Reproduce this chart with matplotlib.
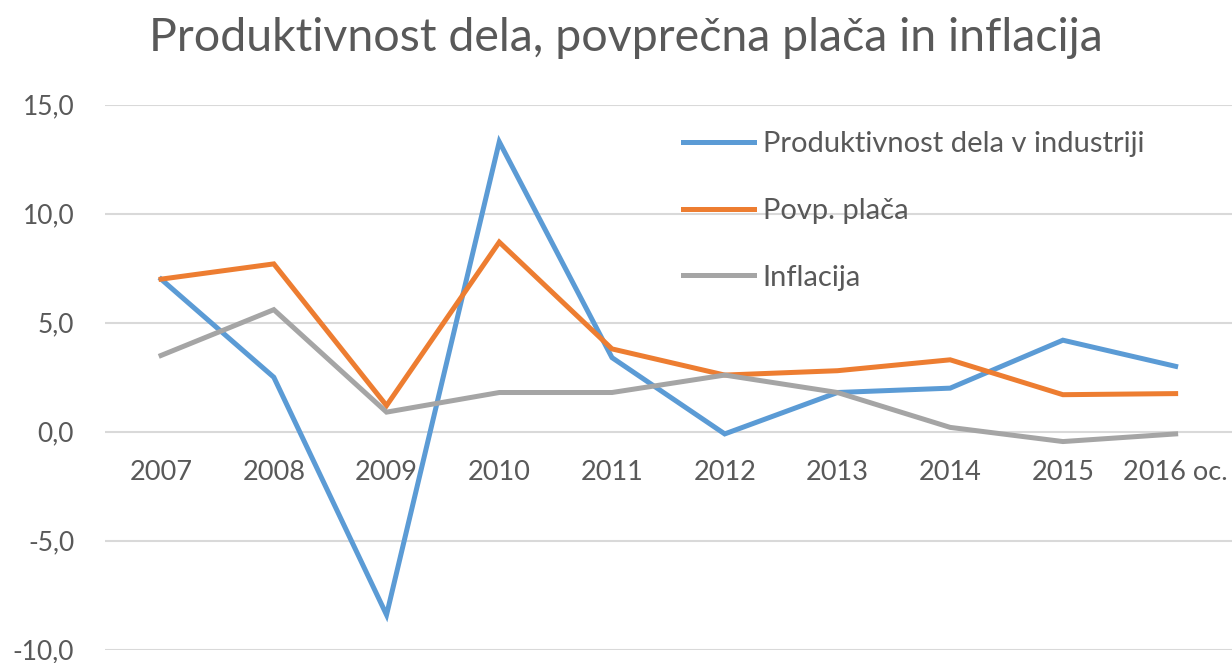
import matplotlib
matplotlib.use("Agg")
import matplotlib.pyplot as plt

plt.rcParams['font.family'] = ['Lato', 'DejaVu Sans']

years = ['2007', '2008', '2009', '2010', '2011', '2012', '2013', '2014', '2015', '2016 oc.']
produktivnost = [7.0, 2.5, -8.4, 13.3, 3.4, -0.1, 1.8, 2.0, 4.2, 3.0]
placa = [7.0, 7.7, 1.2, 8.7, 3.8, 2.6, 2.8, 3.3, 1.7, 1.75]
inflacija = [3.5, 5.6, 0.9, 1.8, 1.8, 2.6, 1.8, 0.2, -0.45, -0.1]

TEXT = '#595959'

fig = plt.figure(figsize=(12.32, 6.63), dpi=100)
ax = fig.add_axes([0.085, 0.02, 0.915, 0.822])

x = list(range(len(years)))
ax.plot(x, produktivnost, color='#5b9bd5', lw=3.6, label='Produktivnost dela v industriji', solid_joinstyle='miter')
ax.plot(x, placa, color='#ed7d31', lw=3.6, label='Povp. plača', solid_joinstyle='miter')
ax.plot(x, inflacija, color='#a5a5a5', lw=3.6, label='Inflacija', solid_joinstyle='miter')

ax.set_xlim(-0.5, len(years) - 0.5)
ax.set_ylim(-10, 15)
ax.set_yticks([-10, -5, 0, 5, 10, 15])
ax.set_yticklabels(['-10,0', '-5,0', '0,0', '5,0', '10,0', '15,0'])
ax.tick_params(axis='y', length=0, pad=22, labelsize=19, labelcolor=TEXT)
ax.set_xticks([])
ax.grid(axis='y', color='#d9d9d9', lw=1.5)
ax.set_axisbelow(True)
for s in ax.spines.values():
    s.set_visible(False)

# category labels sit just under the zero line
for i, lab in enumerate(years):
    ax.annotate(lab, (i, 0), xytext=(0, -29), textcoords='offset points',
                ha='center', va='center', fontsize=19.5, color=TEXT)

leg = ax.legend(loc='upper left', bbox_to_anchor=(0.513, 0.952), frameon=False,
                fontsize=21, handlelength=2.45, handletextpad=0.28, labelspacing=1.4,
                borderpad=0, borderaxespad=0)
for t in leg.get_texts():
    t.set_color(TEXT)

fig.suptitle('Produktivnost dela, povprečna plača in inflacija', x=0.508, y=0.975,
             va='top', fontsize=33.5, color=TEXT)

fig.savefig('out.png', dpi=100)
